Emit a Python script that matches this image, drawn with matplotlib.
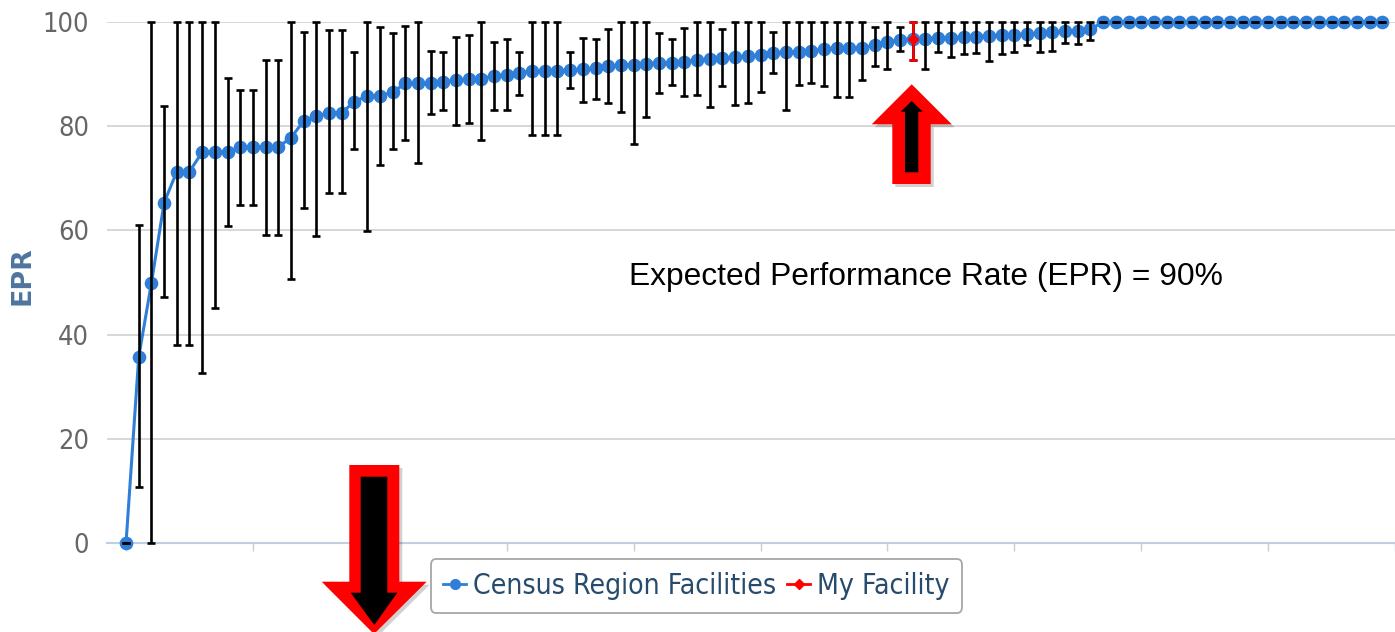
import matplotlib
matplotlib.use("Agg")
import matplotlib.pyplot as plt
import numpy as np
from matplotlib.lines import Line2D
from matplotlib.patches import Polygon

# ---------------- data ----------------
epr = [0, 35.7, 49.9, 65.3, 71.3, 71.3, 75.0, 75.0, 75.0, 76.0,
       76.0, 76.0, 76.0, 77.8, 81.0, 81.9, 82.6, 82.6, 84.7, 85.8,
       85.8, 86.5, 88.2, 88.2, 88.2, 88.5, 88.8, 89.1, 89.1, 89.7,
       89.9, 90.3, 90.6, 90.6, 90.6, 90.7, 90.9, 91.2, 91.5, 91.8,
       91.8, 92.0, 92.2, 92.2, 92.4, 92.7, 92.9, 93.1, 93.2, 93.4,
       93.7, 94.1, 94.2, 94.3, 94.5, 94.8, 95.0, 95.1, 95.1, 95.5,
       96.2, 96.6, 96.8, 96.8, 97.0, 97.0, 97.1, 97.2, 97.4, 97.5,
       97.6, 97.7, 97.9, 98.0, 98.2, 98.3, 98.6] + [100] * 23

epr_high = [0, 61.1, 100, 83.9, 100, 100, 100, 100, 89.2, 86.9,
            86.9, 92.8, 92.8, 100, 98.1, 100, 98.4, 98.4, 94.2, 100,
            99.0, 97.9, 99.2, 100, 94.5, 94.3, 97.2, 97.6, 100, 96.1,
            96.7, 94.3, 100, 100, 100, 94.2, 97.0, 96.7, 98.6, 100,
            100, 100, 97.8, 96.7, 98.9, 100, 100, 98.6, 100, 100,
            100, 98.0, 100, 100, 100, 100, 100, 100, 100, 99.1,
            100, 99.1, 100, 100, 100, 100, 100, 100, 100, 100,
            100, 100, 100, 100, 100, 100, 100] + [100] * 23

epr_low = [0, 10.8, 0, 47.3, 38.0, 38.0, 32.7, 45.1, 60.9, 64.8,
           64.8, 59.2, 59.2, 50.6, 64.3, 59.0, 67.1, 67.1, 75.6, 59.8,
           72.5, 75.6, 77.4, 72.9, 82.4, 83.2, 80.3, 80.6, 77.3, 83.2,
           83.2, 86.0, 78.4, 78.4, 78.4, 87.3, 84.7, 85.2, 84.4, 82.8,
           76.5, 81.7, 86.4, 88.0, 85.8, 86.0, 83.6, 87.7, 84.1, 84.4,
           86.6, 90.2, 83.2, 88.0, 88.3, 87.7, 85.6, 85.6, 88.8, 91.5,
           91.0, 94.4, 92.7, 91.0, 94.2, 93.2, 93.9, 94.1, 92.6, 93.8,
           94.3, 95.5, 94.3, 94.5, 96.0, 95.7, 96.6] + [100] * 23

my_index = [62]
my_value = [96.8]
my_low = [92.7]
my_high = [100.0]

y_ticks = [0, 20, 40, 60, 80, 100]
series_names = ["Census Region Facilities", "My Facility"]
annotation = "Expected Performance Rate (EPR) = 90%"

# ---------------- figure ----------------
W, H = 1395, 632
fig = plt.figure(figsize=(W / 100, H / 100), dpi=100)
ax = fig.add_axes([107 / W, 1 - 543 / H, (W - 107) / W, (543 - 22) / H])

x = np.arange(len(epr))
epr_a = np.array(epr)
lo = np.array(epr_low)
hi = np.array(epr_high)

blue = "#2f7ed8"
ax.plot(x, epr_a, color=blue, lw=2.2, marker="o", ms=8.8, mec=blue,
        zorder=3, clip_on=False)
ax.errorbar(x, epr_a, yerr=[epr_a - lo, hi - epr_a], fmt="none",
            ecolor="black", elinewidth=1.9, capsize=3.2, capthick=1.9,
            zorder=4, clip_on=False)

mv = np.array(my_value)
ax.errorbar(my_index, mv, yerr=[mv - np.array(my_low), np.array(my_high) - mv],
            fmt="D", color="red", ms=5, elinewidth=1.8, capsize=3.2,
            capthick=1.8, zorder=5, clip_on=False)

ax.set_xlim(-1.5, 100)
ax.set_ylim(0, 100)
ax.set_yticks(y_ticks)
ax.set_xticks(np.arange(0, 101, 10))
ax.set_xticklabels([])
ax.yaxis.grid(True, color="#d4d4d4", lw=1.3)
ax.set_axisbelow(True)
for s in ["top", "right", "left"]:
    ax.spines[s].set_visible(False)
ax.spines["bottom"].set_color("#c0d0e0")
ax.spines["bottom"].set_linewidth(1.5)
ax.tick_params(axis="y", length=0, pad=13, labelsize=19.5, labelcolor="#666666")
for lab in ax.get_yticklabels():
    lab.set_fontstretch("condensed")
ax.tick_params(axis="x", length=6, width=1, color="#c0d0e0", direction="out")

fig.text(22 / W, 1 - 276 / H, "EPR", rotation=90, ha="center", va="center",
         fontsize=19.4, fontweight="bold", color="#4d759e")

fig.text(629 / W, 1 - 285 / H, annotation, fontsize=22.9,
         family=["Liberation Sans", "DejaVu Sans"], va="baseline", ha="left",
         color="black")

handles = [Line2D([], [], color=blue, lw=2, marker="o", ms=7),
           Line2D([], [], color="red", lw=2, marker="D", ms=5)]
leg = fig.legend(handles, series_names, loc="center",
                 bbox_to_anchor=(696.5 / W, 1 - 586 / H), ncol=2,
                 prop={"family": "DejaVu Sans", "stretch": "condensed", "size": 20.3},
                 labelcolor="#274b6d", frameon=True, fancybox=True,
                 edgecolor="#909090", handlelength=0.8, handletextpad=0.25,
                 columnspacing=0.4, borderpad=0.45, borderaxespad=0)
leg.get_frame().set_linewidth(1.3)


def px(pts):
    return [(a / W, 1 - b / H) for a, b in pts]


up_outer = [(911.7, 84.3), (951.7, 124.3), (930.7, 124.3), (930.7, 184),
            (892.3, 184), (892.3, 124.3), (871.7, 124.3)]
up_inner = [(911.7, 101), (922.7, 111.7), (918.3, 111.7), (918.3, 172.3),
            (905, 172.3), (905, 111.7), (900.7, 111.7)]
dn_outer = [(349.3, 465), (399.3, 465), (399.3, 581.7), (426.7, 581.7),
            (374, 634), (321.7, 581.7), (349.3, 581.7)]
dn_inner = [(360.7, 476.7), (387.3, 476.7), (387.3, 592.7), (397.3, 592.7),
            (374.3, 625), (350.7, 592.7), (360.7, 592.7)]

for outer, inner in [(up_outer, up_inner), (dn_outer, dn_inner)]:
    shadow = [(a + 3, b + 3) for a, b in outer]
    fig.patches.append(Polygon(px(shadow), closed=True, transform=fig.transFigure,
                               facecolor="#000000", alpha=0.18, lw=0, zorder=9))
    fig.patches.append(Polygon(px(outer), closed=True, transform=fig.transFigure,
                               facecolor="#ff0000", lw=0, zorder=10))
    fig.patches.append(Polygon(px(inner), closed=True, transform=fig.transFigure,
                               facecolor="#000000", lw=0, zorder=11))

fig.savefig("out.png", dpi=100)
